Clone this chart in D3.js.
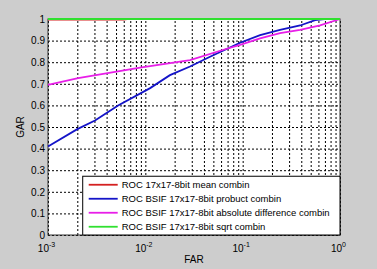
<!DOCTYPE html>
<html>
<head>
<meta charset="utf-8">
<script src="https://cdn.jsdelivr.net/npm/d3@7"></script>
<style>
  body { margin: 0; background: #cdcdcd; }
  svg { display: block; font-family: "Liberation Sans", Arial, sans-serif; }
</style>
</head>
<body>
<svg id="chart"></svg>
<script>
// legend labels, same order as the series below
const seriesNames = [
    "ROC 17x17-8bit mean combin",
    "ROC BSIF 17x17-8bit probuct combin",
    "ROC BSIF 17x17-8bit absolute difference combin",
    "ROC BSIF 17x17-8bit sqrt combin"
];
const seriesColors = ["#d42020", "#1414c8", "#e81ee8", "#30e030"];

// FAR / GAR pairs
const meanFar = [0.001, 0.006, 0.0065, 1];
const meanGar = [0.997, 0.997, 1, 1];

const productFar = [0.001, 0.0020, 0.00304, 0.00525, 0.0112, 0.0179, 0.0288, 0.0462, 0.094, 0.151, 0.242, 0.389, 0.555, 0.70, 1];
const productGar = [0.41, 0.49, 0.53, 0.60, 0.68, 0.74, 0.78, 0.825, 0.89, 0.925, 0.95, 0.97, 0.995, 1, 1];

const absdiffFar = [0.001, 0.00204, 0.00883, 0.0288, 0.066, 0.094, 0.151, 0.242, 0.389, 0.624, 1];
const absdiffGar = [0.695, 0.726, 0.775, 0.81, 0.86, 0.88, 0.91, 0.935, 0.95, 0.97, 1];

const sqrtFar = [0.001, 1];
const sqrtGar = [1, 1];

const yTickValues = [0, 0.1, 0.2, 0.3, 0.4, 0.5, 0.6, 0.7, 0.8, 0.9, 1];
const yTickLabels = ["0", "0.1", "0.2", "0.3", "0.4", "0.5", "0.6", "0.7", "0.8", "0.9", "1"];
const xTickExponents = [-3, -2, -1, 0];

const W = 377, H = 269;
const margin = {top: 19, right: 37, bottom: 34, left: 48};
const width = W - margin.left - margin.right,
    height = H - margin.top - margin.bottom;

const svg = d3.select("#chart").attr("width", W).attr("height", H);

const x = d3.scaleLog().domain([1e-3, 1]).range([0, width]);
const y = d3.scaleLinear().domain([0, 1]).range([height, 0]);

const g = svg.append("g")
    .attr("transform", "translate(" + margin.left + "," + margin.top + ")");

g.append("rect")
    .attr("width", width).attr("height", height)
    .attr("fill", "#fff");

// minor log positions for the x grid
const xGridValues = [];
xTickExponents.slice(0, -1).forEach(function(e) {
    for (let k = 1; k < 10; k++) xGridValues.push(k * Math.pow(10, e));
});
xGridValues.push(1);

const xGrid = g.append("g")
    .attr("transform", "translate(0," + height + ")")
    .call(d3.axisBottom(x).tickValues(xGridValues).tickSize(-height).tickFormat(""));
xGrid.select(".domain").remove();
xGrid.selectAll("line").attr("stroke", "#000").attr("stroke-dasharray", "2,2");

const yGrid = g.append("g")
    .call(d3.axisLeft(y).tickValues(yTickValues).tickSize(-width).tickFormat(""));
yGrid.select(".domain").remove();
yGrid.selectAll("line").attr("stroke", "#000").attr("stroke-dasharray", "2,2");

// frame
g.append("rect")
    .attr("width", width).attr("height", height)
    .attr("fill", "none").attr("stroke", "#333").attr("stroke-width", 1);

// tick labels
const yAxis = g.append("g")
    .call(d3.axisLeft(y).tickValues(yTickValues).tickSize(0).tickPadding(3)
        .tickFormat(function(d, i) { return yTickLabels[i]; }));
yAxis.select(".domain").remove();
yAxis.selectAll("text").attr("font-size", 10).attr("fill", "#000")
    .attr("font-family", "Liberation Sans, Arial, sans-serif");

const xAxis = g.append("g")
    .attr("transform", "translate(0," + height + ")")
    .call(d3.axisBottom(x).tickValues(xTickExponents.map(function(e) { return Math.pow(10, e); }))
        .tickSize(0).tickFormat(""));
xAxis.select(".domain").remove();
xAxis.selectAll(".tick").each(function(d, i) {
    const t = d3.select(this).append("text")
        .attr("y", 16.5).attr("x", -2)
        .attr("text-anchor", "middle")
        .attr("font-size", 10).attr("fill", "#000");
    t.append("tspan").text("10");
    t.append("tspan").attr("dy", -5).attr("font-size", 7).text(xTickExponents[i]);
});

svg.append("text")
    .attr("x", margin.left + width / 2).attr("y", H - 6)
    .attr("text-anchor", "middle").attr("font-size", 10).text("FAR");

svg.append("text")
    .attr("transform", "translate(24," + (margin.top + height / 2) + ") rotate(-90)")
    .attr("text-anchor", "middle").attr("font-size", 10).text("GAR");

// curves
const series = [
    {far: meanFar, gar: meanGar},
    {far: productFar, gar: productGar},
    {far: absdiffFar, gar: absdiffGar},
    {far: sqrtFar, gar: sqrtGar}
];
const line = d3.line()
    .x(function(d) { return x(d[0]); })
    .y(function(d) { return y(d[1]); });

series.forEach(function(s, i) {
    g.append("path")
        .datum(d3.zip(s.far, s.gar))
        .attr("d", line)
        .attr("fill", "none")
        .attr("stroke", seriesColors[i])
        .attr("stroke-width", 1.8);
});

// legend
const legX = x(0.0023) - 0.5, legY = y(0.272);
const legend = g.append("g").attr("transform", "translate(" + legX + "," + legY + ")");
legend.append("rect")
    .attr("width", width - legX).attr("height", height - legY)
    .attr("fill", "#fff").attr("stroke", "#000");

seriesNames.forEach(function(name, i) {
    const row = legend.append("g").attr("transform", "translate(0," + (8.5 + i * 14) + ")");
    row.append("line")
        .attr("x1", 6).attr("x2", 35)
        .attr("stroke", seriesColors[i]).attr("stroke-width", 1.8);
    row.append("text")
        .attr("x", 39).attr("dy", "0.35em")
        .attr("font-size", 9.5).text(name);
});
</script>
</body>
</html>
